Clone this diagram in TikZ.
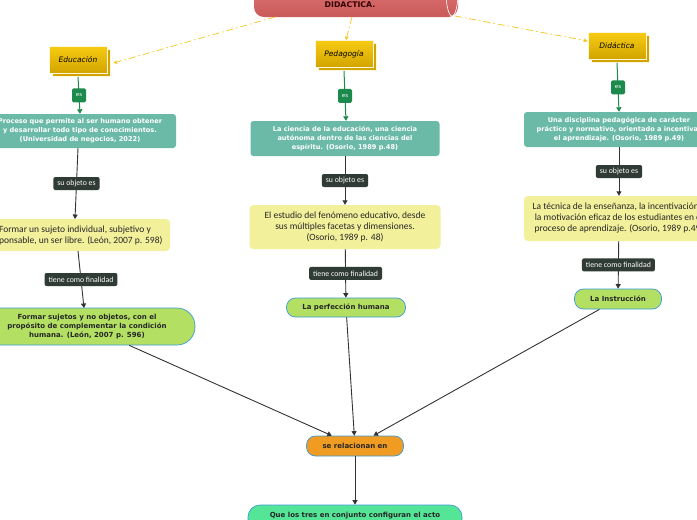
\documentclass[tikz,border=0pt]{standalone}
\usepackage{fontspec}
\setmainfont{DejaVu Sans}
\newfontfamily\softfont{Carlito}
\usetikzlibrary{arrows.meta,shadows}
\definecolor{titlered}{HTML}{E06464}
\definecolor{goldtop}{HTML}{F6CB10}
\definecolor{goldbot}{HTML}{D2A400}
\definecolor{esgreen}{HTML}{1C8A4C}
\definecolor{tealbox}{HTML}{6BBAA8}
\definecolor{lbldark}{HTML}{2F3B34}
\definecolor{creambox}{HTML}{F3F09B}
\definecolor{pillgreen}{HTML}{B3E063}
\definecolor{pillblue}{HTML}{3A9BD8}
\definecolor{relorange}{HTML}{F09B22}
\definecolor{mint}{HTML}{55E597}
\definecolor{hintyellow}{HTML}{F5C518}
\definecolor{linkgray}{HTML}{333333}
\tikzset{
  titlebox/.style={rounded corners=10pt, top color=titlered!85!white, bottom color=titlered!90!black,
    minimum width=204pt, minimum height=44pt},
  gold/.style={draw=white!85!goldtop, line width=0.8pt, top color=goldtop, bottom color=goldbot,
    minimum width=58pt, minimum height=27pt, inner sep=0pt,
    font=\itshape\fontsize{7.5}{9}\selectfont, text=black,
    general shadow={shadow xshift=3pt, shadow yshift=-3pt, fill=goldbot, draw=white!85!goldtop}},
  verb/.style={fill=esgreen, text=white, rounded corners=1.5pt, minimum width=14pt, minimum height=14pt,
    inner sep=1pt, font=\fontsize{5.5}{6}\selectfont},
  lbl/.style={fill=lbldark, text=white, rounded corners=2pt, minimum height=13pt, inner xsep=4pt,
    inner ysep=1pt, font=\softfont\fontsize{7.8}{8}\selectfont},
  teal/.style={fill=tealbox, text=white, rounded corners=3pt, align=center, inner sep=0pt,
    font=\bfseries\fontsize{6.6}{9}\selectfont},
  cream/.style={fill=creambox, text=black!85, rounded corners=4pt, align=center, inner sep=0pt,
    font=\softfont\fontsize{9.5}{11}\selectfont},
  pill/.style={draw=pillblue, line width=0.7pt, fill=pillgreen, align=center, inner sep=0pt,
    font=\bfseries\fontsize{7}{8.6}\selectfont, text=black!85},
  hint/.style={draw=hintyellow, line width=0.7pt, dash pattern=on 7pt off 3pt on 1.5pt off 3pt,
    -{Stealth[length=4pt,width=4pt]}},
  golink/.style={draw=esgreen, line width=1pt, -{Triangle[length=4.5pt,width=5pt]}},
  link/.style={draw=linkgray, line width=0.9pt, -{Triangle[length=4.5pt,width=5pt]}}
}
\begin{document}
\begin{tikzpicture}[x=1pt,y=-1pt]
  \clip (0,0) rectangle (697,520);
  \fill[white] (0,0) rectangle (697,520);
  % main topic
  \node (title) [titlebox] at (356,-5) {};
  \draw[white, line width=0.6pt] (452,-8) ellipse (6 and 24);
  \node (titletxt) [font=\bfseries\fontsize{7.8}{9}\selectfont, text=black!80!red] at (350,5) {DIDACTICA.};
  % the three concepts
  \node (edu) [gold] at (78,60) {Educación};
  \node (ped) [gold] at (344,54) {Pedagogía};
  \node (did) [gold] at (617,46) {Didáctica};
  \draw[hint] (275,17) -- ([xshift=6pt,yshift=-3pt]edu.east);
  \draw[hint] (352,17) -- ([xshift=2pt]ped.north);
  \draw[hint] (455,16) -- ([yshift=5pt]did.west);
  % definitions
  \node (edu1) [teal, minimum width=192pt, minimum height=34pt] at (80,131)
    {Proceso que permite al ser humano obtener\\y desarrollar todo tipo de conocimientos.\\(Universidad de negocios, 2022)};
  \node (ped1) [teal, minimum width=189pt, minimum height=35pt] at (345,138.5)
    {La ciencia de la educación, una ciencia\\autónoma dentro de las ciencias del\\espíritu. (Osorio, 1989 p.48)};
  \node (did1) [teal, minimum width=190pt, minimum height=35pt] at (619,129.5)
    {Una disciplina pedagógica de carácter\\práctico y normativo, orientado a incentivar\\el aprendizaje. (Osorio, 1989 p.49)};
  \draw[golink] ([yshift=-3pt]edu.south) -- node[verb] {es} (edu1.north -| 80,0);
  \draw[golink] ([yshift=-3pt]ped.south) -- node[verb] {es} (ped1.north -| 346,0);
  \draw[golink] ([yshift=-3pt]did.south) -- node[verb] {es} (did1.north -| 619,0);
  % objects
  \node (edu2) [cream, minimum width=190pt, minimum height=32pt] at (75,235)
    {Formar un sujeto individual, subjetivo y\\responsable, un ser libre. (León, 2007 p. 598)};
  \node (ped2) [cream, minimum width=191pt, minimum height=44pt] at (345,227)
    {El estudio del fenómeno educativo, desde\\sus múltiples facetas y dimensiones.\\(Osorio, 1989 p. 48)};
  \node (did2) [cream, minimum width=190pt, minimum height=45pt] at (619,218.5)
    {La técnica de la enseñanza, la incentivación y\\la motivación eficaz de los estudiantes en el\\proceso de aprendizaje. (Osorio, 1989 p.49)};
  \draw[link] (78,148) -- node[lbl] {su objeto es} (75,219);
  \draw[link] (ped1) -- node[lbl] {su objeto es} (ped2);
  \draw[link] (did1) -- node[lbl] {su objeto es} (did2);
  % aims
  \node (edu3) [pill, rounded corners=18pt, minimum width=216pt, minimum height=37pt] at (87,326.5)
    {Formar sujetos y no objetos, con el\\propósito de complementar la condición\\humana. (León, 2007 p. 596)};
  \node (ped3) [pill, rounded corners=9pt, minimum width=119pt, minimum height=19pt] at (346,307.5)
    {La perfección humana};
  \node (did3) [pill, rounded corners=9pt, minimum width=87pt, minimum height=20pt] at (618,299)
    {La Instrucción};
  \draw[link] (78,251) -- node[lbl] {tiene como finalidad} (84,308);
  \draw[link] (ped2) -- node[lbl] {tiene como finalidad} (ped3);
  \draw[link] (did2) -- node[lbl] {tiene como finalidad} (did3);
  % relation
  \node (rel) [pill, fill=relorange, rounded corners=9pt, minimum width=97pt, minimum height=20pt] at (355,446)
    {se relacionan en};
  \node (fin) [pill, fill=mint, rounded corners=12pt, minimum width=214pt, minimum height=26pt,
    text depth=6pt] at (355,518) {Que los tres en conjunto configuran el acto};
  \draw[link] (edu3) -- (rel);
  \draw[link] (ped3) -- (rel);
  \draw[link] (did3) -- (rel);
  \draw[link] (rel) -- (fin);
\end{tikzpicture}
\end{document}
